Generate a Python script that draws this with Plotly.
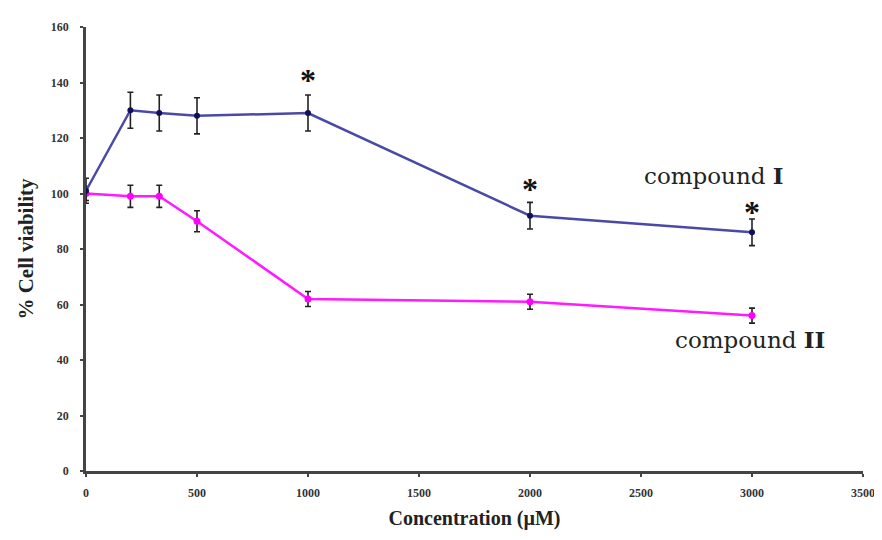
import plotly.graph_objects as go

# Data
conc = [0, 200, 330, 500, 1000, 2000, 3000]
compound1 = [101, 130, 129, 128, 129, 92, 86]
compound1_err = [4.5, 6.5, 6.5, 6.5, 6.5, 4.8, 4.8]
compound2 = [100, 99, 99, 90, 62, 61, 56]
compound2_err = [2.5, 4, 4, 3.8, 2.7, 2.7, 2.7]

star_x = [1000, 2000, 3000]
star_y = [141, 101.5, 93.5]

x_ticks = [0, 500, 1000, 1500, 2000, 2500, 3000, 3500]
y_ticks = [0, 20, 40, 60, 80, 100, 120, 140, 160]

serif = "DejaVu Serif"

fig = go.Figure()
fig.add_trace(go.Scatter(
    x=conc, y=compound2, mode="lines+markers",
    line=dict(color="#ff1aff", width=2.5),
    marker=dict(color="#ff00ff", size=7),
    error_y=dict(type="data", array=compound2_err, color="#222222", thickness=1.6, width=3),
    showlegend=False,
))
fig.add_trace(go.Scatter(
    x=conc, y=compound1, mode="lines+markers",
    line=dict(color="#4a4aa6", width=2.5),
    marker=dict(color="#10105a", size=6),
    error_y=dict(type="data", array=compound1_err, color="#222222", thickness=1.6, width=3),
    showlegend=False,
))

annotations = []
for sx, sy in zip(star_x, star_y):
    annotations.append(dict(x=sx, y=sy, xref="x", yref="y", text="<b>*</b>", showarrow=False,
                            font=dict(family="Liberation Serif", size=32, color="#111111"),
                            yanchor="middle", borderpad=0))
annotations.append(dict(x=2829, y=106.5, xref="x", yref="y", text="compound <b>I</b>", showarrow=False,
                        font=dict(family=serif, size=23, color="#222222"), borderpad=0))
annotations.append(dict(x=2990, y=47.5, xref="x", yref="y", text="compound <b>II</b>", showarrow=False,
                        font=dict(family=serif, size=23, color="#222222"), borderpad=0))

fig.update_layout(
    width=882, height=540,
    margin=dict(l=78, r=27, t=13, b=77),
    paper_bgcolor="white", plot_bgcolor="white",
    annotations=annotations,
    xaxis=dict(
        range=[0, 3500], tickvals=x_ticks, ticktext=[str(v) for v in x_ticks],
        showgrid=False, zeroline=False, showline=True, linecolor="#444444", linewidth=2.5,
        ticks="outside", ticklen=3, tickwidth=2, tickcolor="#444444", ticklabelstandoff=6,
        tickfont=dict(family="Liberation Serif", size=12, color="#333333", weight="bold"),
        title=dict(text="<b>Concentration (µM)</b>", font=dict(family="Liberation Serif", size=20, color="#222222"),
                   standoff=12),
    ),
    yaxis=dict(
        range=[0, 160], tickvals=y_ticks, ticktext=[str(v) for v in y_ticks],
        showgrid=False, zeroline=False, showline=True, linecolor="#444444", linewidth=2.5,
        ticks="outside", ticklen=3, tickwidth=2, tickcolor="#444444", ticklabelstandoff=9,
        tickfont=dict(family="Liberation Serif", size=12, color="#333333", weight="bold"),
        title=dict(text="<b>% Cell viability</b>", font=dict(family="Liberation Serif", size=21, color="#222222"),
                   standoff=12),
    ),
)

fig.write_html("out.html")
